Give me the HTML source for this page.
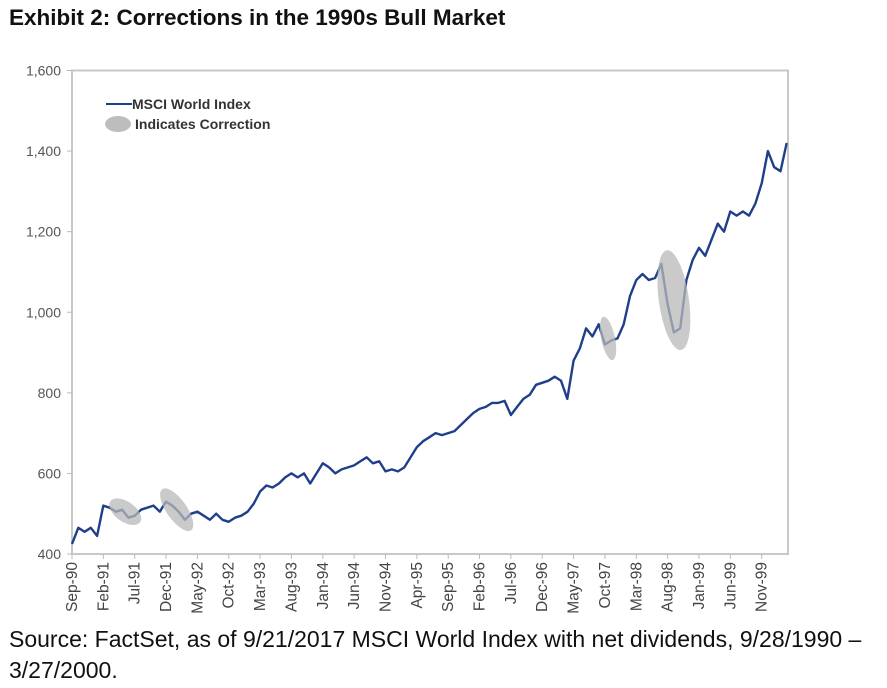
<!DOCTYPE html>
<html><head><meta charset="utf-8"><style>
body{margin:0;background:#fff;width:887px;height:688px;overflow:hidden;font-family:"Liberation Sans",Arial,sans-serif}
#title{position:absolute;left:9px;top:5px;font-size:22.5px;font-weight:bold;color:#111}
#src{position:absolute;left:9px;top:624px;font-size:23px;line-height:31px;color:#111;width:878px;white-space:nowrap}
svg{position:absolute;left:0;top:0}
</style></head><body>
<div id="title">Exhibit 2: Corrections in the 1990s Bull Market</div>
<svg id="chart" width="887" height="688"></svg>
<div id="src">Source: FactSet, as of 9/21/2017 MSCI World Index with net dividends, 9/28/1990 –<br>3/27/2000.</div>
<script>
const yTicks=[400,600,800,1000,1200,1400,1600];
const xLabels=["Sep-90","Feb-91","Jul-91","Dec-91","May-92","Oct-92","Mar-93","Aug-93","Jan-94","Jun-94","Nov-94","Apr-95","Sep-95","Feb-96","Jul-96","Dec-96","May-97","Oct-97","Mar-98","Aug-98","Jan-99","Jun-99","Nov-99"];
// monthly values from Sep-90 (month 0) to Mar-00 (month 114)
const values=[425,465,455,465,445,520,515,505,510,490,495,510,515,520,505,530,520,505,485,500,505,495,485,500,485,480,490,495,505,525,555,570,565,575,590,600,590,600,575,600,625,615,600,610,615,620,630,640,625,630,605,610,605,615,640,665,680,690,700,695,700,705,720,735,750,760,765,775,775,780,745,765,785,795,820,825,830,840,830,785,880,910,960,940,970,920,930,935,970,1040,1080,1095,1080,1085,1120,1020,950,960,1080,1130,1160,1140,1180,1220,1200,1250,1240,1250,1240,1270,1320,1400,1360,1350,1420];
// corrections: [centerMonth, centerValue, monthsWide, valueTall, angle]
const corrMonth=[8.5,16.7,85.5,96];
const corrValue=[505,510,935,1030];
const corrW=[5.8,8,2.2,4.8];
const corrH=[50,50,110,250];
const corrAngle=[35,55,-12,-8];
const X0=72,X1=788,Y0=554,Y1=70.5,MONTHS=114.2;
const xs=m=>X0+m*(X1-X0)/MONTHS;
const ys=v=>Y0-(v-400)*(Y0-Y1)/1200;
const svg=document.getElementById('chart');
const NS='http://www.w3.org/2000/svg';
function mk(t,a){const e=document.createElementNS(NS,t);for(const k in a)e.setAttribute(k,a[k]);svg.appendChild(e);return e;}
const box=mk('rect',{x:X0,y:Y1,width:X1-X0,height:Y0-Y1,fill:'none',stroke:'#c8c8c8','stroke-width':2});


yTicks.forEach(v=>{
 const t=mk('line',{x1:X0-5,x2:X0,y1:ys(v),y2:ys(v),stroke:'#bbb','stroke-width':1});
 
 
 const l=mk('text',{x:X0-11,y:ys(v)+5,'text-anchor':'end','font-size':14,fill:'#555'});
 l.textContent=v.toLocaleString('en-US');
 
 
});
xLabels.forEach((s,i)=>{
 const x=xs(i*5);
 const t=mk('line',{x1:x,x2:x,y1:Y0,y2:Y0+5,stroke:'#bbb','stroke-width':1});
 
 
 const l=mk('text',{x:0,y:0,'text-anchor':'end','font-size':15.5,fill:'#444',transform:`translate(${x+5},${Y0+8}) rotate(-90)`});
 l.textContent=s;
 
 
});
const pts=values.map((v,i)=>xs(i).toFixed(1)+','+ys(v).toFixed(1)).join(' ');
const line=mk('polyline',{points:pts,fill:'none',stroke:'#1f3f8a','stroke-width':2.4,'stroke-linejoin':'round'});


corrMonth.forEach((m,i)=>{
 const cx=xs(m),cy=ys(corrValue[i]);
 const rx=(xs(corrW[i])-xs(0))/2, ry=(ys(0)-ys(corrH[i]))/2;
 const e=mk('ellipse',{cx,cy,rx,ry,fill:'#b8b8b8','fill-opacity':0.75,transform:`rotate(${corrAngle[i]} ${cx} ${cy})`});
 
 
});
const ll=mk('line',{x1:106,x2:132,y1:104,y2:104,stroke:'#1f3f8a','stroke-width':2});


const lt=mk('text',{x:132,y:109,'font-size':14,'font-weight':'bold',fill:'#333'});
lt.textContent='MSCI World Index';


const le=mk('ellipse',{cx:118,cy:124,rx:13,ry:8,fill:'#bdbdbd'});


const lt2=mk('text',{x:135,y:129,'font-size':14,'font-weight':'bold',fill:'#333'});
lt2.textContent='Indicates Correction';


</script>
</body></html>
